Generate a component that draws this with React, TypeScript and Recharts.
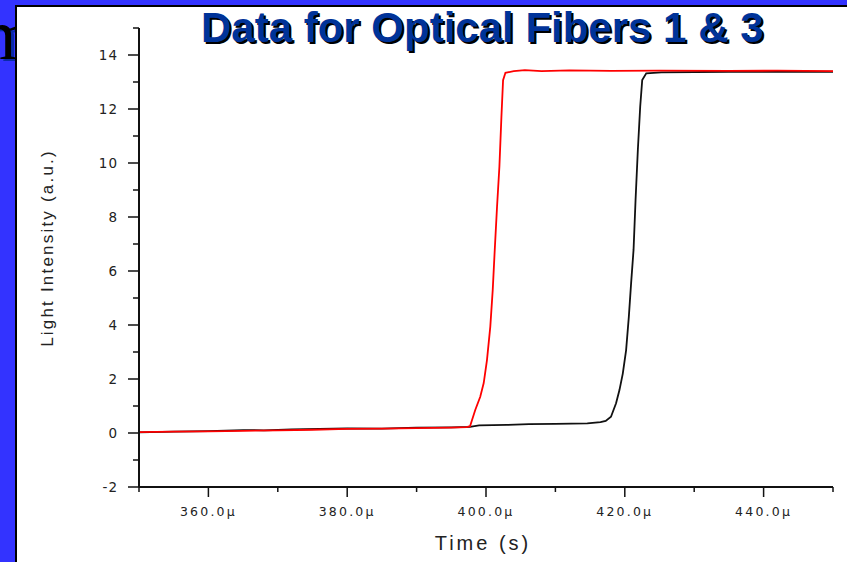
import { LineChart, Line, XAxis, YAxis } from 'recharts'

// fiber 3 (red) – time in µs, intensity in a.u.
const redTime = [350, 355, 360, 365, 370, 375, 380, 385, 390, 395, 397.2, 397.7, 398.45, 399.17, 399.67, 400.14, 400.62, 400.97, 401.26, 401.59, 401.93, 402.22, 402.46, 402.8, 404, 405.6, 408, 412, 418, 425, 435, 442, 450]
const redValue = [0.03, 0.05, 0.06, 0.08, 0.1, 0.12, 0.15, 0.16, 0.18, 0.2, 0.22, 0.25, 0.85, 1.34, 1.85, 2.7, 3.94, 5.3, 6.78, 8.38, 9.86, 11.7, 13.07, 13.34, 13.4, 13.44, 13.4, 13.43, 13.41, 13.42, 13.41, 13.42, 13.4]

// fiber 1 (black)
const blackTime = [350, 355, 360, 365, 368, 372, 380, 385, 390, 395, 397.7, 399, 403, 406.2, 410, 414.6, 416.5, 417.25, 418.01, 418.74, 419.23, 419.71, 420.19, 420.58, 420.91, 421.26, 421.55, 421.88, 422.22, 422.51, 423.09, 425.26, 435, 450]
const blackValue = [0.02, 0.05, 0.07, 0.11, 0.1, 0.13, 0.17, 0.16, 0.2, 0.21, 0.23, 0.28, 0.3, 0.33, 0.34, 0.36, 0.4, 0.45, 0.6, 1.1, 1.59, 2.2, 3.07, 4.3, 5.55, 6.78, 8.63, 10.48, 12.09, 13.07, 13.32, 13.36, 13.38, 13.38]

const xTicks = [350, 360, 370, 380, 390, 400, 410, 420, 430, 440, 450]
const xLabelled = [360, 380, 400, 420, 440]
const yTicks = [-2, -1, 0, 1, 2, 3, 4, 5, 6, 7, 8, 9, 10, 11, 12, 13, 14, 15]
const yLabelled = [-2, 0, 2, 4, 6, 8, 10, 12, 14]

const redData = redTime.map((t, i) => ({ t, v: redValue[i] }))
const blackData = blackTime.map((t, i) => ({ t, v: blackValue[i] }))

const tickFont = '"DejaVu Sans", sans-serif'

function XTick({ x, y, payload }: any) {
  const major = xLabelled.includes(payload.value)
  return (
    <g>
      <line x1={x} y1={y} x2={x} y2={y + (major ? 10 : 5)} stroke="#111" strokeWidth={1.5} />
      {major && (
        <text x={x} y={y + 29} textAnchor="middle" fontFamily={tickFont} fontSize={12.5} letterSpacing={2.2} fill="#222">
          {payload.value.toFixed(1) + 'μ'}
        </text>
      )}
    </g>
  )
}

function YTick({ x, y, payload }: any) {
  const major = yLabelled.includes(payload.value)
  return (
    <g>
      <line x1={x - (major ? 11 : 6)} y1={y} x2={x} y2={y} stroke="#111" strokeWidth={1.5} />
      {major && (
        <text x={x - 21} y={y} dy="0.36em" textAnchor="end" fontFamily={tickFont} fontSize={13.5} letterSpacing={1} fill="#222">
          {payload.value}
        </text>
      )}
    </g>
  )
}

export default function App() {
  return (
    <div style={{ position: 'absolute', left: 0, top: 0, width: 847, height: 562, background: '#3333ff', overflow: 'hidden' }}>
      <div style={{ position: 'absolute', left: -20, top: -6, fontFamily: '"Liberation Serif", serif', fontSize: 72, color: '#000', textShadow: '3px 2px 0 #0a2aa8' }}>
        m
      </div>
      <div style={{ position: 'absolute', left: 15, top: 5, right: 0, bottom: 0, background: '#fff', borderLeft: '2px solid #000', borderTop: '2px solid #000' }} />
      <div
        style={{
          position: 'absolute',
          left: 201,
          top: 7,
          whiteSpace: 'nowrap',
          fontFamily: '"Liberation Sans", Arial, sans-serif',
          fontWeight: 'bold',
          fontSize: 42,
          lineHeight: '42px',
          color: '#003399',
          textShadow: '2px 2px 0 #000',
        }}
      >
        Data for Optical Fibers 1 &amp; 3
      </div>
      <div style={{ position: 'absolute', left: 0, top: 0 }}>
        <LineChart width={847} height={562} margin={{ top: 28, right: 14, left: 0, bottom: 0 }}>
          <XAxis
            dataKey="t"
            type="number"
            domain={[350, 450]}
            ticks={xTicks}
            interval={0}
            allowDataOverflow
            height={75}
            tickSize={0}
            tickMargin={0}
            tickLine={false}
            axisLine={{ stroke: '#111', strokeWidth: 2 }}
            tick={<XTick />}
            label={{
              content: () => (
                <text x={483} y={550} textAnchor="middle" fontFamily='"Liberation Sans", Arial, sans-serif' fontSize={20} letterSpacing={3} fill="#222">
                  Time (s)
                </text>
              ),
            }}
          />
          <YAxis
            type="number"
            domain={[-2, 15]}
            ticks={yTicks}
            interval={0}
            allowDataOverflow
            width={139}
            tickSize={0}
            tickMargin={0}
            tickLine={false}
            axisLine={{ stroke: '#111', strokeWidth: 2 }}
            tick={<YTick />}
            label={{
              content: () => (
                <text transform="translate(53, 248) rotate(-90)" textAnchor="middle" fontFamily='"Liberation Sans", Arial, sans-serif' fontSize={17} letterSpacing={2.2} fill="#222">
                  Light Intensity (a.u.)
                </text>
              ),
            }}
          />
          <Line data={blackData} dataKey="v" type="linear" stroke="#111" strokeWidth={1.8} dot={false} activeDot={false} isAnimationActive={false} />
          <Line data={redData} dataKey="v" type="linear" stroke="#ff0000" strokeWidth={1.8} dot={false} activeDot={false} isAnimationActive={false} />
        </LineChart>
      </div>
    </div>
  )
}
